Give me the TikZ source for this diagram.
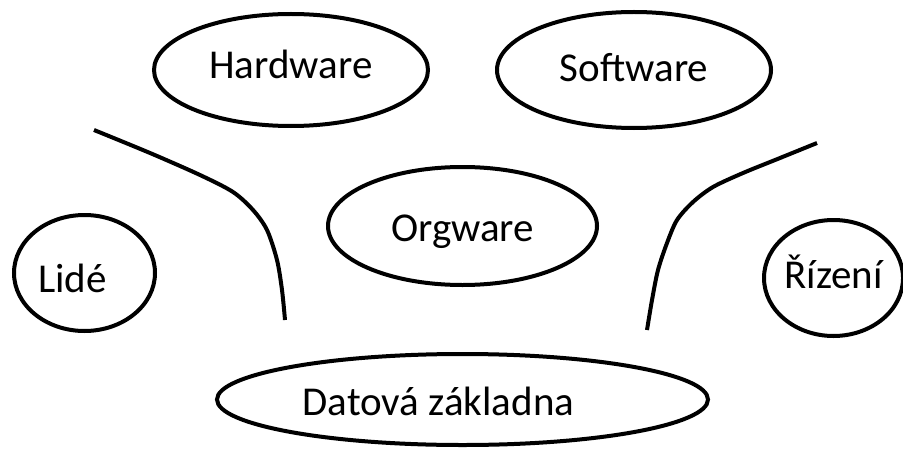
\documentclass[tikz,border=0pt]{standalone}
\usepackage{fontspec}
\setmainfont{Carlito}
\usetikzlibrary{positioning, shapes.geometric}

\begin{document}
\begin{tikzpicture}[
        x=0.5pt, y=-0.5pt,
        bubble/.style={draw, ellipse, line width=2pt, inner sep=0pt, text=black, text height=13pt, text depth=0pt, font=\fontsize{20.5pt}{24pt}\selectfont},
        stroke/.style={line width=2pt, draw=black}
    ]
    \useasboundingbox (0,0) rectangle (903,449);

    \node[bubble, minimum width=137pt, minimum height=56pt, text height=9pt] (hw) at (291,70) {Hardware};
    \node[bubble, minimum width=137pt, minimum height=58pt, text height=12pt] (sw) at (634,70) {Software};
    \node[bubble, minimum width=134.5pt, minimum height=59pt, text height=15pt] (org) at (462.5,226) {Orgware};

    \node[bubble, minimum width=70.5pt, minimum height=58pt, text height=19pt] (lide) at (84.5,273) {Lidé\hspace*{12pt}};
    \node[bubble, minimum width=66.5pt, minimum height=58pt, text height=10pt] (rizeni) at (833.5,278) {Řízení};

    \node[bubble, minimum width=245.5pt, minimum height=45.5pt, text height=15.5pt] (data) at (462.5,399.5) {Datová základna\hspace*{24pt}};

    % dividing strokes
    \draw[stroke] plot[smooth] coordinates {(94,130) (150,153) (200,175) (233,192) (253,210) (267,230) (277,260) (282,290) (285,320)};
    \draw[stroke] plot[smooth] coordinates {(817,143) (780,158) (743,173) (713,187) (693,202) (677,220) (667,243) (658,270) (652,300) (647,330)};

\end{tikzpicture}
\end{document}
